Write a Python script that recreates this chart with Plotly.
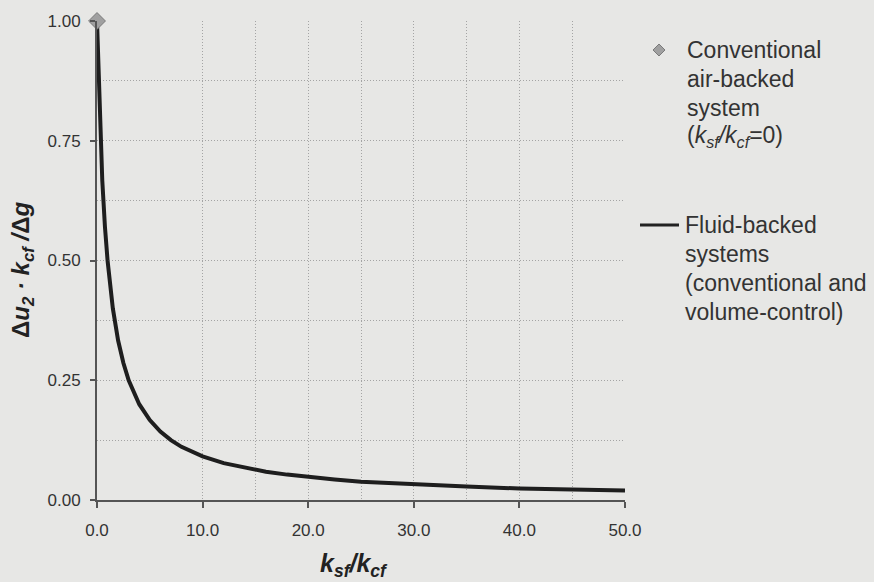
import plotly.graph_objects as go

# ---- data ----
ratio_x = [0, 0.25, 0.5, 0.75, 1, 1.5, 2, 2.5, 3, 4, 5, 6, 7, 8, 9, 10,
           12, 14, 16, 18, 20, 22.5, 25, 27.5, 30, 35, 40, 45, 50]
response_y = [1.00, 0.80, 0.667, 0.571, 0.50, 0.40, 0.333, 0.286, 0.25, 0.20,
              0.167, 0.143, 0.125, 0.111, 0.10, 0.091, 0.077, 0.067, 0.059,
              0.053, 0.048, 0.043, 0.038, 0.035, 0.032, 0.028, 0.024, 0.022, 0.020]
air_x = [0.0]
air_y = [1.00]

x_ticks = [0, 10, 20, 30, 40, 50]
x_minor_grid = [15, 25, 35, 45]
y_ticks = [0, 0.25, 0.5, 0.75, 1.0]

legend_air = ["Conventional", "air-backed", "system",
              "(<i>k</i><sub><i>sf</i></sub><i>/k</i><sub><i>cf</i></sub>=0)"]
legend_fluid = ["Fluid-backed", "systems", "(conventional and", "volume-control)"]

# ---- layout geometry (pixels) ----
W, H = 874, 582
L, R, T, B = 97, 625, 21, 500
FONT = "Arial"
BG = "#e7e7e5"
GRID = "#a4a4a4"
AXIS = "#555555"
TXT = "#333333"
DOT = "1px,2px"


def px(xp):
    return (xp - L) / (R - L)


def py(yp):
    return (B - yp) / (B - T)


fig = go.Figure()
fig.add_trace(go.Scatter(x=ratio_x, y=response_y, mode="lines",
                         line=dict(color="#1e1e1e", width=4),
                         showlegend=False, hoverinfo="skip"))
fig.add_trace(go.Scatter(x=air_x, y=air_y, mode="markers",
                         marker=dict(symbol="diamond", size=13, color="#a0a0a0",
                                     line=dict(color="#7a7a7a", width=1)),
                         cliponaxis=False, showlegend=False))

fig.update_layout(
    width=W, height=H,
    margin=dict(l=L, r=W - R, t=T, b=H - B, pad=0),
    paper_bgcolor=BG, plot_bgcolor=BG,
    font=dict(family=FONT, color=TXT, size=17),
    showlegend=False,
)
fig.update_xaxes(range=[0, 50], tickvals=x_ticks, tickformat=".1f",
                 showline=True, linecolor=AXIS, linewidth=2, zeroline=False,
                 ticks="outside", ticklen=6, tickwidth=1.5, tickcolor=AXIS,
                 ticklabelstandoff=8,
                 tickfont=dict(family=FONT, size=17, color=TXT),
                 showgrid=True, gridcolor=GRID, gridwidth=1, griddash=DOT,
                 minor=dict(tickvals=x_minor_grid, showgrid=True, gridcolor=GRID,
                            gridwidth=1, griddash=DOT, ticks=""))
fig.update_yaxes(range=[0, 1], tickvals=y_ticks, tickformat=".2f",
                 showline=True, linecolor=AXIS, linewidth=2, zeroline=False,
                 ticks="outside", ticklen=5, tickwidth=1.5, tickcolor=AXIS,
                 ticklabelstandoff=6,
                 tickfont=dict(family=FONT, size=17, color=TXT),
                 showgrid=True, gridcolor=GRID, gridwidth=1, griddash=DOT,
                 minor=dict(dtick=0.125, showgrid=True, gridcolor=GRID, gridwidth=1,
                            griddash=DOT, ticks=""))

# axis titles
fig.add_annotation(xref="paper", yref="paper", x=px(354), y=py(565),
                   xanchor="center", yanchor="middle", showarrow=False,
                   text="<b><i>k</i><sub><i>sf</i></sub><i>/k</i><sub><i>cf</i></sub></b>",
                   font=dict(family=FONT, size=25, color="#222222"))
fig.add_annotation(xref="paper", yref="paper", x=px(22), y=py(270),
                   xanchor="center", yanchor="middle", showarrow=False, textangle=-90,
                   text="<b>Δ<i>u</i><sub><i>2</i></sub><i> · k</i><sub><i>cf</i></sub><i> /</i>Δ<i>g</i></b>",
                   font=dict(family=FONT, size=24, color="#222222"))

# custom legend
for i, t in enumerate(legend_air):
    fig.add_annotation(xref="paper", yref="paper", x=px(685), y=py(50 + 29 * i),
                       xanchor="left", yanchor="middle", showarrow=False, text=t,
                       font=dict(family=FONT, size=23, color=TXT))
for i, t in enumerate(legend_fluid):
    fig.add_annotation(xref="paper", yref="paper", x=px(683), y=py(225 + 29 * i),
                       xanchor="left", yanchor="middle", showarrow=False, text=t,
                       font=dict(family=FONT, size=23, color=TXT))

cx, cy, d = 659, 50, 6
fig.add_shape(type="path", xref="paper", yref="paper",
              path=f"M {px(cx - d)} {py(cy)} L {px(cx)} {py(cy - d)} L {px(cx + d)} {py(cy)} L {px(cx)} {py(cy + d)} Z",
              fillcolor="#a0a0a0", line=dict(color="#7a7a7a", width=1))
fig.add_shape(type="line", xref="paper", yref="paper",
              x0=px(640), x1=px(679), y0=py(225), y1=py(225),
              line=dict(color="#222222", width=3))

fig.write_html("out.html")
